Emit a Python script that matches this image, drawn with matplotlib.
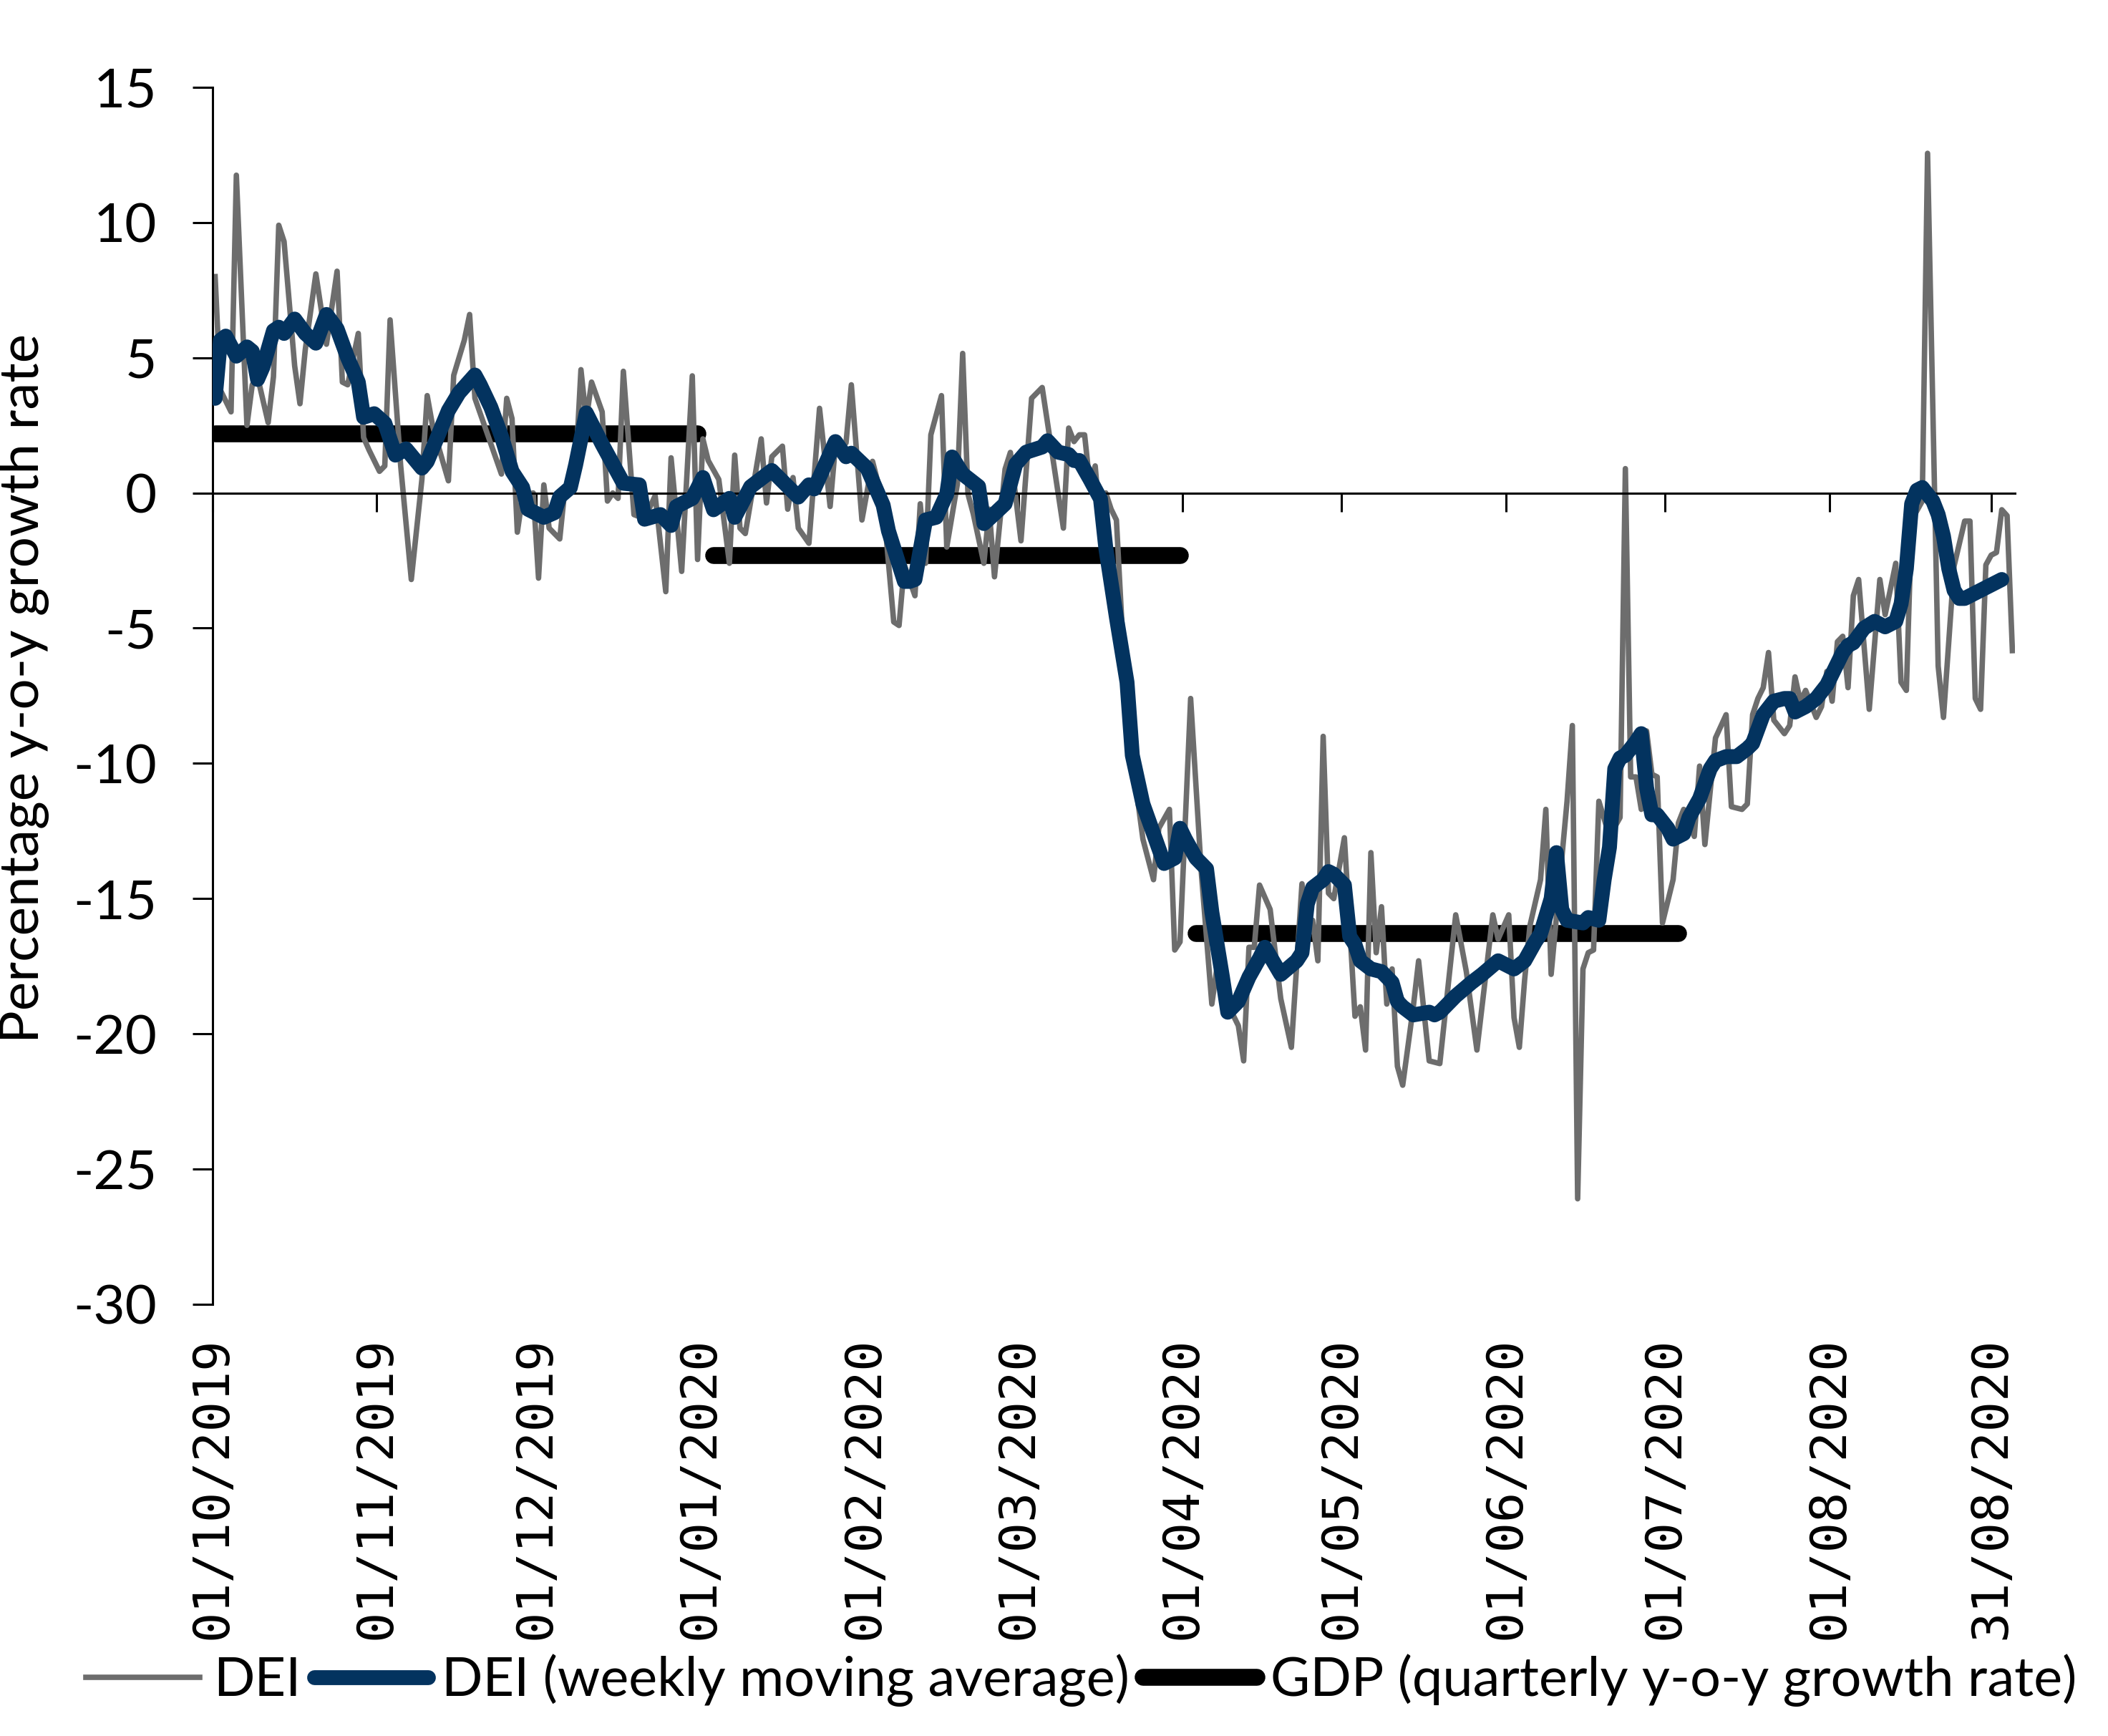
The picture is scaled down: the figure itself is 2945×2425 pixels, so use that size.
import matplotlib
matplotlib.use('Agg')
import matplotlib.pyplot as plt
import matplotlib.dates as mdates
from matplotlib.lines import Line2D
import pandas as pd

plt.rcParams['font.family'] = ['Lato', 'DejaVu Sans']
plt.rcParams['axes.unicode_minus'] = False

start = pd.Timestamp('2019-10-01')

# DEI, daily (turning points): days after 01/10/2019, value
dei_day = [0, 1, 3, 4, 6, 7, 8, 10, 11, 12, 13, 15, 16, 17, 19, 21, 23, 24, 25, 27,
           28, 29, 31, 32, 33, 35, 37, 39, 40, 41, 42, 44, 45, 47, 48, 49, 54, 55, 56, 57,
           58, 60, 61, 62, 63, 65, 66, 68, 69, 70, 71, 73, 74, 75, 76, 77, 79, 81, 83, 85,
           86, 88, 90, 91, 92, 93, 95, 97, 98, 99, 100, 103, 104, 105, 107, 108, 109, 110, 112, 114,
           116, 117, 119, 120, 122, 124, 126, 128, 129, 130, 132, 133, 134, 135, 137, 138, 140, 141, 142, 143,
           145, 146, 147, 149, 150, 152, 154, 156, 160, 161, 162, 163, 164, 165, 166, 167, 168, 169, 170, 172,
           175, 177, 178, 180, 181, 182, 184, 186, 188, 189, 191, 193, 194, 195, 196, 197, 199, 201, 203, 205,
           206, 207, 208, 209, 210, 211, 213, 215, 216, 217, 218, 219, 220, 221, 222, 223, 224, 226, 227, 229,
           231, 234, 236, 238, 241, 242, 244, 245, 246, 247, 248, 250, 251, 252, 255, 256, 257, 258, 259, 260,
           261, 263, 265, 266, 267, 268, 269, 270, 271, 272, 273, 275, 276, 277, 279, 280, 281, 283, 285, 286,
           288, 289, 290, 291, 292, 293, 294, 296, 297, 298, 299, 300, 302, 303, 304, 305, 306, 307, 308, 309,
           310, 312, 314, 315, 317, 318, 319, 320, 322, 323, 325, 326, 328, 330, 331, 332, 333, 334, 335, 336,
           337, 338, 339]
dei_val = [8.0, 3.8, 3.0, 11.75, 2.5, 4.0, 4.3, 2.6, 4.3, 9.9, 9.3, 4.7, 3.3, 5.3, 8.1, 5.5, 8.2, 4.1, 4.0, 5.9,
           2.05, 1.6, 0.8, 1.0, 6.4, 1.0, -3.2, 0.5, 3.6, 2.5, 1.8, 0.45, 4.35, 5.65, 6.6, 3.5, 0.7, 3.5, 2.75, -1.45,
           -0.1, 0.0, -3.15, 0.3, -1.3, -1.7, 0.2, 0.9, 4.56, 2.7, 4.1, 3.0, -0.3, 0.0, -0.2, 4.5, -0.8, -0.95, -0.1, -3.65,
           1.3, -2.9, 4.33, -2.46, 2.0, 1.2, 0.5, -2.6, 1.4, -1.3, -1.5, 2.0, -0.37, 1.34, 1.73, -0.6, 0.57, -1.3, -1.86, 3.13,
           -0.5, 1.77, 1.85, 4.0, -1.0, 1.17, -0.37, -4.77, -4.9, -2.67, -3.8, -0.4, -2.6, 2.15, 3.6, -2.0, 0.33, 5.16, -0.04, -0.77,
           -2.6, -0.6, -3.1, 0.88, 1.5, -1.77, 3.5, 3.9, -1.3, 2.4, 1.9, 2.15, 2.15, 0.3, 1.0, -1.3, 0.0, -0.6, -1.0, -8.4,
           -12.8, -14.3, -12.4, -11.7, -16.9, -16.6, -7.6, -14.0, -18.9, -17.5, -18.9, -19.7, -21.0, -16.8, -16.8, -14.5, -15.4, -18.7, -20.5, -14.45,
           -16.5, -15.8, -17.3, -9.0, -14.8, -15.0, -12.75, -19.35, -19.0, -20.6, -13.3, -17.0, -15.3, -18.9, -17.6, -21.2, -21.9, -19.0, -17.3, -21.0,
           -21.1, -15.6, -17.7, -20.6, -15.6, -16.5, -15.6, -19.4, -20.5, -18.0, -16.0, -14.3, -11.7, -17.8, -11.4, -8.6, -26.1, -17.6, -17.0, -16.9,
           -11.4, -12.7, -12.0, 0.9, -10.5, -10.5, -11.7, -8.8, -10.4, -10.5, -15.9, -14.3, -12.2, -11.7, -12.7, -10.1, -13.0, -9.06, -8.2, -11.6,
           -11.7, -11.5, -8.2, -7.6, -7.2, -5.9, -8.4, -8.9, -8.6, -6.8, -7.7, -7.3, -8.3, -7.9, -6.6, -7.7, -5.5, -5.3, -7.2, -3.8,
           -3.2, -8.0, -3.2, -4.5, -2.6, -7.0, -7.3, -1.0, -0.3, 12.56, -6.4, -8.3, -2.7, -1.04, -1.04, -7.6, -8.0, -2.66, -2.3, -2.2,
           -0.62, -0.84, -5.83]

# DEI weekly moving average
ma_day = [0, 1, 2, 4, 6, 7, 8, 9, 11, 12, 13, 15, 17, 19, 21, 23, 25, 27, 28, 30,
          32, 34, 36, 39, 40, 42, 44, 46, 49, 50, 52, 54, 56, 58, 59, 62, 64, 65, 67, 68,
          70, 73, 77, 80, 81, 84, 86, 87, 90, 92, 94, 97, 98, 101, 105, 110, 112, 113, 117, 119,
          120, 123, 126, 127, 130, 131, 132, 134, 136, 138, 139, 141, 144, 145, 147, 149, 151, 153, 156, 157,
          159, 161, 162, 163, 165, 167, 168, 170, 172, 173, 175, 177, 179, 181, 182, 183, 185, 187, 188, 190,
          191, 193, 195, 197, 198, 201, 204, 205, 206, 207, 209, 210, 211, 213, 214, 215, 216, 218, 220, 222,
          223, 224, 226, 229, 230, 231, 234, 237, 239, 242, 243, 245, 247, 249, 250, 252, 253, 254, 255, 258,
          259, 261, 262, 263, 264, 265, 266, 268, 269, 270, 271, 272, 274, 275, 277, 278, 280, 282, 283, 285,
          287, 289, 290, 292, 294, 296, 297, 298, 300, 302, 304, 306, 307, 308, 309, 311, 313, 315, 317, 318,
          319, 320, 321, 322, 324, 325, 326, 327, 328, 329, 330, 332, 334, 335, 336, 337]
ma_val = [3.5, 5.65, 5.8, 5.06, 5.4, 5.24, 4.2, 4.65, 6.0, 6.13, 5.9, 6.43, 5.9, 5.54, 6.6, 6.07, 5.0, 4.1, 2.8, 2.93,
          2.58, 1.4, 1.63, 0.92, 1.16, 2.1, 3.05, 3.7, 4.36, 4.0, 3.17, 2.1, 0.8, 0.2, -0.6, -0.9, -0.73, -0.14, 0.2, 1.04,
          2.96, 1.8, 0.36, 0.3, -0.97, -0.8, -1.2, -0.5, -0.2, 0.57, -0.62, -0.2, -0.9, 0.23, 0.83, -0.15, 0.3, 0.15, 1.9, 1.34,
          1.47, 0.91, -0.45, -1.4, -3.27, -3.27, -3.2, -1.0, -0.9, -0.04, 1.33, 0.7, 0.24, -1.13, -0.77, -0.4, 1.06, 1.51, 1.7, 1.93,
          1.51, 1.42, 1.2, 1.2, 0.51, -0.22, -2.04, -4.6, -7.0, -9.7, -11.5, -12.6, -13.7, -13.5, -12.4, -12.8, -13.5, -13.9, -15.5, -17.9,
          -19.2, -18.8, -17.9, -17.2, -16.8, -17.8, -17.3, -17.0, -15.2, -14.6, -14.3, -14.0, -14.1, -14.5, -16.4, -16.7, -17.3, -17.6, -17.7, -18.1,
          -18.8, -19.0, -19.3, -19.2, -19.3, -19.2, -18.6, -18.1, -17.8, -17.3, -17.4, -17.6, -17.3, -16.6, -16.3, -15.0, -13.3, -15.4, -15.8, -15.9,
          -15.7, -15.8, -14.3, -13.1, -10.2, -9.8, -9.7, -9.2, -8.9, -10.9, -11.9, -11.9, -12.4, -12.8, -12.6, -12.0, -11.3, -10.2, -9.9, -9.75,
          -9.75, -9.45, -9.26, -8.2, -7.7, -7.6, -7.6, -8.1, -7.9, -7.6, -7.1, -6.3, -5.9, -5.64, -5.54, -5.0, -4.75, -4.95, -4.75, -4.1,
          -2.8, -0.4, 0.1, 0.2, -0.3, -0.8, -1.6, -2.8, -3.6, -3.9, -3.9, -3.7, -3.5, -3.4, -3.3, -3.2]

# GDP, quarterly y-o-y growth rate
gdp_from = ['2019-10-01', '2020-01-03', '2020-04-03']
gdp_to = ['2019-12-31', '2020-03-31', '2020-07-03']
gdp_val = [2.2, -2.3, -16.3]

tick_dates = ['2019-10-01', '2019-11-01', '2019-12-01', '2020-01-01', '2020-02-01', '2020-03-01',
              '2020-04-01', '2020-05-01', '2020-06-01', '2020-07-01', '2020-08-01', '2020-08-31 12:00']
tick_labels = ['01/10/2019', '01/11/2019', '01/12/2019', '01/01/2020', '01/02/2020', '01/03/2020',
               '01/04/2020', '01/05/2020', '01/06/2020', '01/07/2020', '01/08/2020', '31/08/2020']

half = pd.Timedelta(hours=12)
dei_x = [start + pd.Timedelta(days=d) + half for d in dei_day]
ma_x = [start + pd.Timedelta(days=d) + half for d in ma_day]

grey = '#6d6d6d'
navy = '#03335f'

fig = plt.figure(figsize=(29.45, 24.25), dpi=100)
ax = fig.add_axes([0.1008, 0.2487, 0.8551, 0.701])

for a, b, v in zip(gdp_from, gdp_to, gdp_val):
    ax.plot([pd.Timestamp(a) + half, pd.Timestamp(b) + half], [v, v], color='black', lw=17,
            solid_capstyle='round', zorder=1)
ax.plot(dei_x, dei_val, color=grey, lw=5.5, zorder=2, solid_joinstyle='round')
ax.plot(ma_x, ma_val, color=navy, lw=15, zorder=3, solid_joinstyle='round',
        solid_capstyle='round')

ax.set_ylim(-30, 15)
ax.set_yticks(range(-30, 16, 5))
ax.set_xlim(start, pd.Timestamp('2020-09-05'))

for s in ['top', 'right']:
    ax.spines[s].set_visible(False)
ax.spines['left'].set_linewidth(2.2)
ax.spines['bottom'].set_position(('data', 0))
ax.spines['bottom'].set_linewidth(2.2)

ticks = [mdates.date2num(pd.Timestamp(t)) for t in tick_dates]
ax.set_xticks(ticks)
ax.tick_params(axis='x', direction='out', length=19, width=2.2, labelbottom=False)
ax.tick_params(axis='y', direction='out', length=20, width=2.2, pad=36, labelsize=55)

# date labels sit at the bottom of the frame, ticks stay on the zero line
sec = ax.secondary_xaxis('bottom')
sec.spines['bottom'].set_visible(False)
sec.set_xticks(ticks)
sec.set_xticklabels(tick_labels, rotation=90, family='DejaVu Sans Mono', fontsize=50.5)
sec.tick_params(axis='x', length=0, pad=33)

ax.set_ylabel('Percentage y-o-y growth rate', fontsize=55)
ax.yaxis.set_label_coords(-0.0903, 0.506)

handles = [Line2D([], [], color=grey, lw=5.5),
           Line2D([], [], color=navy, lw=15, solid_capstyle='round'),
           Line2D([], [], color='black', lw=17, solid_capstyle='round')]
labels = ['DEI', 'DEI (weekly moving average)', 'GDP (quarterly y-o-y growth rate)']
fig.legend(handles, labels, loc='center', bbox_to_anchor=(0.513, 0.032), ncol=3, frameon=False,
           fontsize=54.5, handlelength=2.1, handletextpad=0.25, columnspacing=0.25)

fig.savefig('out.png', dpi=100)
